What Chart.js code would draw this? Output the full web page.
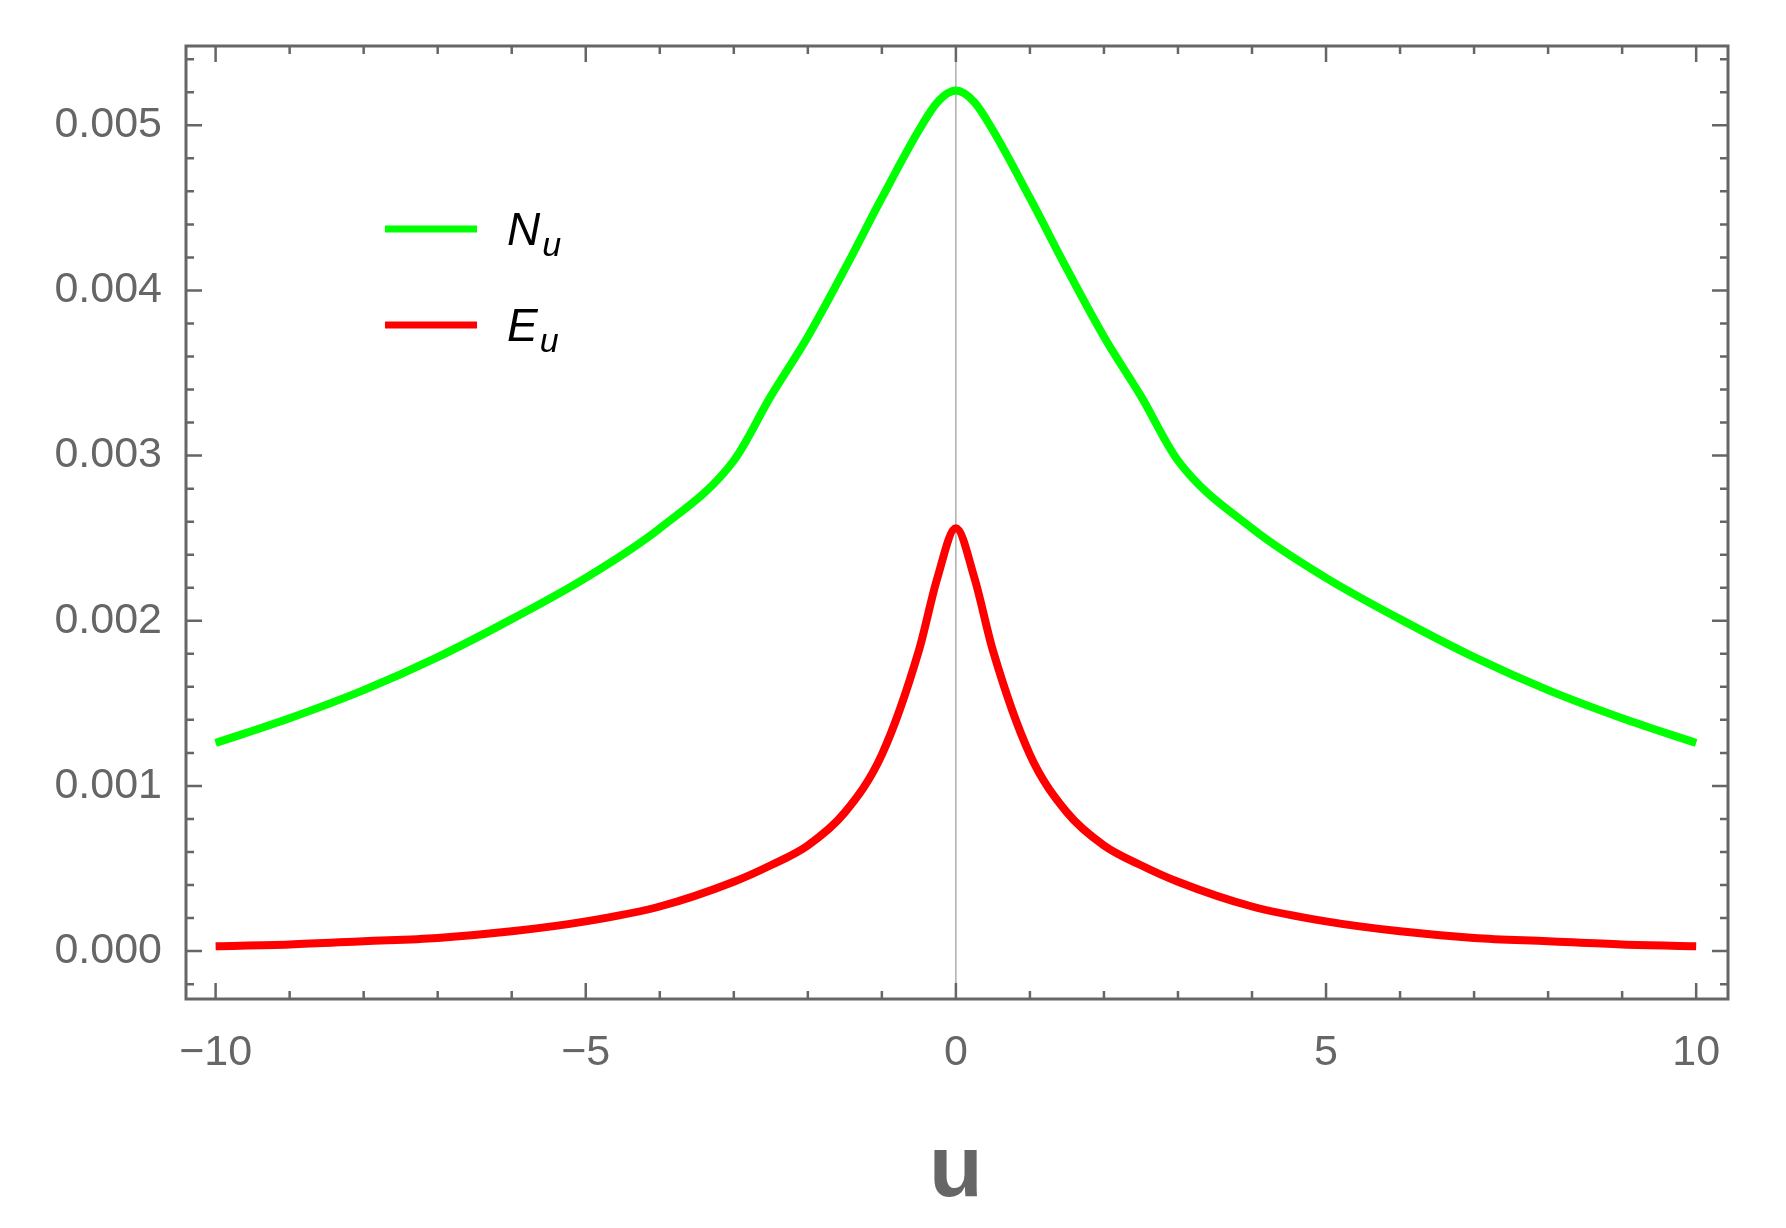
<!DOCTYPE html><html><head><meta charset="utf-8">
<script src="https://cdn.jsdelivr.net/npm/chart.js@4"></script>
<style>html,body{margin:0;background:#fff}#w{width:1786px;height:1228px}</style></head><body>
<div id="w"><canvas id="c"></canvas></div>
<script>
const uValues=[-10,-9,-8,-7,-6,-5,-4,-3,-2.5,-2,-1.5,-1,-0.5,-0.25,0,0.25,0.5,1,1.5,2,2.5,3,4,5,6,7,8,9,10];
const nuHalf=[0.00126,0.00141,0.00158,0.00178,0.00201,0.00226,0.00256,0.00297,0.00336,0.00372,0.00413,0.00456,0.00497,0.00514,0.00521];
const euHalf=[0.00003,0.00004,0.00006,0.00008,0.00012,0.00018,0.00027,0.00042,0.00052,0.00064,0.00084,0.00119,0.00182,0.00226,0.00256];
const NuValues=nuHalf.concat(nuHalf.slice(0,-1).reverse());
const EuValues=euHalf.concat(euHalf.slice(0,-1).reverse());
const xTicks=[-10,-5,0,5,10];
const yTicks=[0,0.001,0.002,0.003,0.004,0.005];
const seriesNames=['N','E'];
const gray='#666666';
const FONT='"Liberation Sans", Arial, sans-serif';
const pts=a=>uValues.map((u,i)=>({x:u,y:a[i]}));
const deco={id:'deco',
 beforeDatasetsDraw(ch){const c=ch.ctx,x=ch.scales.x,a=ch.chartArea;
  c.save();c.strokeStyle='#999';c.lineWidth=1.2;c.beginPath();const x0=x.getPixelForValue(0);c.moveTo(x0,a.top);c.lineTo(x0,a.bottom);c.stroke();c.restore();},
 afterDatasetsDraw(ch){const c=ch.ctx,x=ch.scales.x,y=ch.scales.y,a=ch.chartArea;
  c.save();c.strokeStyle=gray;c.lineWidth=3;
  c.strokeRect(a.left,a.top,a.right-a.left,a.bottom-a.top);
  c.lineWidth=2.5;c.beginPath();
  for(let v=-10;v<=10;v++){const p=x.getPixelForValue(v),L=(v%5===0)?16:8;c.moveTo(p,a.bottom);c.lineTo(p,a.bottom-L);c.moveTo(p,a.top);c.lineTo(p,a.top+L);}
  for(let k=-1;k<=27;k++){const v=k*0.0002;const p=y.getPixelForValue(v);if(p<a.top||p>a.bottom)continue;const L=(k%5===0)?16:8;c.moveTo(a.left,p);c.lineTo(a.left+L,p);c.moveTo(a.right,p);c.lineTo(a.right-L,p);}
  c.stroke();
  const cols=['#00ff00','#ff0000'],ys=[229,325];
  ys.forEach((yy,i)=>{c.strokeStyle=cols[i];c.lineWidth=7;c.beginPath();c.moveTo(385,yy);c.lineTo(477,yy);c.stroke();
   c.fillStyle='#000';c.textBaseline='alphabetic';c.font='italic 46px '+FONT;c.fillText(seriesNames[i],507,yy+16);
   const w=c.measureText(seriesNames[i]).width;c.font='italic 34px '+FONT;c.fillText('u',507+w+2,yy+27);});
  c.fillStyle=gray;c.font='bold 88px '+FONT;c.textAlign='center';c.fillText('u',x.getPixelForValue(0),1196);
  c.restore();}};
new Chart(document.getElementById('c'),{type:'line',
 data:{datasets:[
  {label:'Nu',data:pts(NuValues),borderColor:'#00ff00',borderWidth:8,pointRadius:0,cubicInterpolationMode:'monotone',fill:false},
  {label:'Eu',data:pts(EuValues),borderColor:'#ff0000',borderWidth:8,pointRadius:0,cubicInterpolationMode:'monotone',fill:false}]},
 options:{responsive:true,maintainAspectRatio:false,animation:false,devicePixelRatio:1,
  layout:{padding:{left:0,top:46,right:58,bottom:0}},
  plugins:{legend:{display:false},tooltip:{enabled:false}},
  scales:{
   x:{type:'linear',min:-10.4,max:10.43,grid:{display:false},border:{display:false},
    afterBuildTicks:s=>{s.ticks=xTicks.map(v=>({value:v}));},
    afterFit:s=>{s.height=229;},
    ticks:{padding:20,color:gray,font:{size:43,family:FONT},maxRotation:0,callback:v=>String(v).replace('-','\u2212')}},
   y:{min:-0.00029,max:0.00548,grid:{display:false},border:{display:false},
    afterBuildTicks:s=>{s.ticks=yTicks.map(v=>({value:v}));},
    afterFit:s=>{s.width=186;},
    ticks:{padding:16,color:gray,font:{size:43,family:FONT},callback:v=>v.toFixed(3)}}}},
 plugins:[deco]});
</script></body></html>
